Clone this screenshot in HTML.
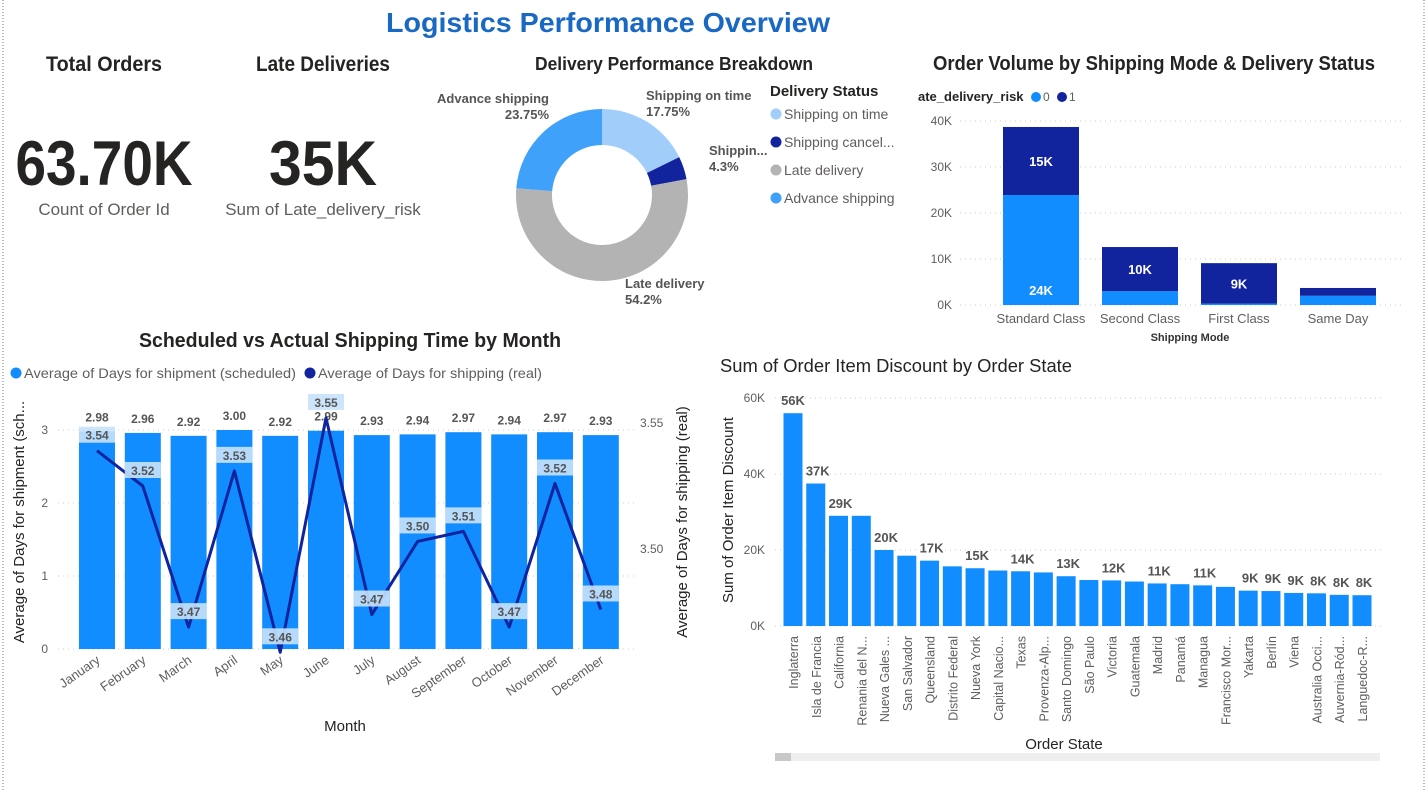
<!DOCTYPE html>
<html><head><meta charset="utf-8"><style>
html,body{margin:0;padding:0;background:#fff;}
svg{display:block;font-family:"Liberation Sans",sans-serif;}
.h{font-family:"Liberation Sans",sans-serif;font-weight:bold;fill:#252423;}
.tk{font-size:12px;fill:#605e5c;}
.lb{font-family:"Liberation Sans",sans-serif;font-weight:bold;font-size:12px;fill:#555;}
</style></head><body>
<svg id="s" width="1428" height="792" viewBox="0 0 1428 792">
<defs><clipPath id="yclip"><rect x="914" y="100" width="9" height="220"/></clipPath></defs>
<line x1="3" y1="0" x2="3" y2="792" stroke="#777" stroke-dasharray="1,2"/>
<line x1="1424" y1="0" x2="1424" y2="792" stroke="#777" stroke-dasharray="1,2"/>
<text x="608" y="32" text-anchor="middle" font-size="28" font-weight="bold" fill="#1868c4" textLength="444" lengthAdjust="spacingAndGlyphs">Logistics Performance Overview</text>

<text class="h" x="104" y="71" text-anchor="middle" font-size="21" textLength="116" lengthAdjust="spacingAndGlyphs">Total Orders</text>
<text class="h" x="104" y="185" text-anchor="middle" font-size="63" textLength="177" lengthAdjust="spacingAndGlyphs">63.70K</text>
<text x="104" y="215" text-anchor="middle" font-size="17" fill="#605e5c">Count of Order Id</text>
<text class="h" x="323" y="71" text-anchor="middle" font-size="21" textLength="134" lengthAdjust="spacingAndGlyphs">Late Deliveries</text>
<text class="h" x="323" y="185" text-anchor="middle" font-size="63" textLength="108" lengthAdjust="spacingAndGlyphs">35K</text>
<text x="323" y="215" text-anchor="middle" font-size="17" fill="#605e5c">Sum of Late_delivery_risk</text>

<g id="donut">
<text class="h" x="674" y="70" text-anchor="middle" font-size="18" textLength="278" lengthAdjust="spacingAndGlyphs">Delivery Performance Breakdown</text>
<text class="h" x="770" y="96" font-size="15" fill="#444">Delivery Status</text>
</g>
<g id="stack">
<text class="h" x="1154" y="70" text-anchor="middle" font-size="20" textLength="442" lengthAdjust="spacingAndGlyphs">Order Volume by Shipping Mode &amp; Delivery Status</text>
<text class="h" x="918" y="101" font-size="13" fill="#444">ate_delivery_risk</text>
<circle cx="1036" cy="97" r="5" fill="#118dff"/>
<text x="1043" y="101" font-size="12" fill="#605e5c">0</text>
<circle cx="1062" cy="97" r="5" fill="#12239e"/>
<text x="1069" y="101" font-size="12" fill="#605e5c">1</text>
<text x="1190" y="341" text-anchor="middle" font-size="11" font-weight="bold" fill="#333">Shipping Mode</text>
<text transform="translate(922,210) rotate(-90)" clip-path="url(#yclip)" text-anchor="middle" font-size="11" fill="#333">Count of Order Id</text>
</g>
<g id="combo">
<text class="h" x="350" y="347" text-anchor="middle" font-size="20" textLength="422" lengthAdjust="spacingAndGlyphs">Scheduled vs Actual Shipping Time by Month</text>
<circle cx="16" cy="373" r="5.5" fill="#118dff"/>
<text x="24" y="378" font-size="14" fill="#605e5c" textLength="272" lengthAdjust="spacingAndGlyphs">Average of Days for shipment (scheduled)</text>
<circle cx="310" cy="373" r="5.5" fill="#12239e"/>
<text x="318" y="378" font-size="14" fill="#605e5c" textLength="224" lengthAdjust="spacingAndGlyphs">Average of Days for shipping (real)</text>
<text transform="translate(24,522) rotate(-90)" text-anchor="middle" font-size="15" fill="#252423">Average of Days for shipment (sch...</text>
<text transform="translate(687,522) rotate(-90)" text-anchor="middle" font-size="15" fill="#252423">Average of Days for shipping (real)</text>
<text x="345" y="731" text-anchor="middle" font-size="15" fill="#252423">Month</text>
</g>
<g id="disc">
<text x="720" y="372" font-size="18" fill="#252423" textLength="352" lengthAdjust="spacingAndGlyphs">Sum of Order Item Discount by Order State</text>
<text transform="translate(733,510) rotate(-90)" text-anchor="middle" font-size="15" fill="#252423">Sum of Order Item Discount</text>
<text x="1064" y="749" text-anchor="middle" font-size="15" fill="#252423">Order State</text>
<rect x="775" y="753" width="605" height="8" fill="#efefef"/>
<rect x="775" y="753" width="16" height="8" fill="#c8c8c8"/>
</g>
</svg>
<script>
// Donut data
const statusLabels=["Shipping on time","Shipping canceled","Late delivery","Advance shipping"];
const statusShares=[17.75,4.3,54.2,23.75];
// Stacked data
const modes=["Standard Class","Second Class","First Class","Same Day"];
const risk0=[23.9,3.0,0.3,2.0];
const risk1=[14.8,9.6,8.8,1.7];
const risk1Labels=["15K","10K","9K",""];
const risk0Labels=["24K","","",""];
const stackTicks=[0,10,20,30,40];
// Combo data
const months=["January","February","March","April","May","June","July","August","September","October","November","December"];
const scheduled=[2.98,2.96,2.92,3.00,2.92,2.99,2.93,2.94,2.97,2.94,2.97,2.93];
const realDays=[3.539,3.525,3.469,3.531,3.459,3.552,3.474,3.503,3.507,3.469,3.526,3.476];
const realLabels=["3.54","3.52","3.47","3.53","3.46","3.55","3.47","3.50","3.51","3.47","3.52","3.48"];
const leftTicks=[0,1,2,3];
const rightTicks=[3.50,3.55];
// Discount data
const states=["Inglaterra","Isla de Francia","California","Renania del N...","Nueva Gales ...","San Salvador","Queensland","Distrito Federal","Nueva York","Capital Nacio...","Texas","Provenza-Alp...","Santo Domingo","São Paulo","Victoria","Guatemala","Madrid","Panamá","Managua","Francisco Mor...","Yakarta","Berlín","Viena","Australia Occi...","Auvernia-Ród...","Languedoc-R..."];
const discounts=[56,37.5,29,29,20,18.5,17.2,15.7,15.2,14.6,14.4,14.1,13.1,12.1,12,11.7,11.2,11,10.7,10.3,9.3,9.2,8.7,8.6,8.2,8.1];
const discLabels=["56K","37K","29K","","20K","","17K","","15K","","14K","","13K","","12K","","11K","","11K","","9K","9K","9K","8K","8K","8K"];
const discTicks=[0,20,40,60];

const NS="http://www.w3.org/2000/svg";
function mk(parent,tag,attrs,text){const e=document.createElementNS(NS,tag);for(const k in attrs)e.setAttribute(k,attrs[k]);if(text!==undefined)e.textContent=text;parent.appendChild(e);return e;}

// ---- Donut
(function(){
const g=document.getElementById('donut');
const colors=["#a0cdfa","#12239e","#b3b3b3","#3fa1f9"];
const cx=602,cy=195,R=86,r=50;
const total=statusShares.reduce((a,b)=>a+b,0);
let a0=0;
statusShares.forEach((v,i)=>{
 const a1=a0+v/total*Math.PI*2;
 const p=(a,rad)=>[cx+rad*Math.sin(a),cy-rad*Math.cos(a)];
 const [x0,y0]=p(a0,R),[x1,y1]=p(a1,R),[x2,y2]=p(a1,r),[x3,y3]=p(a0,r);
 const lg=(a1-a0)>Math.PI?1:0;
 const el=mk(g,'path',{d:`M${x0},${y0}A${R},${R} 0 ${lg} 1 ${x1},${y1}L${x2},${y2}A${r},${r} 0 ${lg} 0 ${x3},${y3}Z`,fill:colors[i]});
 
 
 a0=a1;
});
const lbls=[[646,100,"Shipping on time",statusShares[0]+"%","start"],[709,155,"Shippin...",statusShares[1]+"%","start"],[625,288,"Late delivery",statusShares[2]+"%","start"],[549,103,"Advance shipping",statusShares[3]+"%","end"]];
lbls.forEach((l,i)=>{
 const t=mk(g,'text',{x:l[0],y:l[1],'text-anchor':l[4],class:'lb',style:'font-size:13px'},l[2]);
 
 
 const t2=mk(g,'text',{x:l[0],y:l[1]+16,'text-anchor':l[4],class:'lb',style:'font-size:13px'},l[3]);
 
 
});
const names=["Shipping on time","Shipping cancel...","Late delivery","Advance shipping"];
names.forEach((n,i)=>{
 const c=mk(g,'circle',{cx:776,cy:114+i*28,r:5.5,fill:colors[i]});
 
 
 const t=mk(g,'text',{x:784,y:119+i*28,'font-size':14,fill:'#605e5c'},n);
 
 
});
})();

// ---- Stacked
(function(){
const g=document.getElementById('stack');
const y=v=>305-v*4.6;
stackTicks.forEach(t=>{
 const l=mk(g,'line',{x1:960,x2:1405,y1:y(t),y2:y(t),stroke:'#ccc','stroke-dasharray':'1,4'});
 
 
 const tx=mk(g,'text',{x:952,y:y(t)+4,'text-anchor':'end',class:'tk'},t+'K');
 
 
});
modes.forEach((m,i)=>{
 const x=1003+i*99,w=76;
 const b0=mk(g,'rect',{x:x,y:y(risk0[i]),width:w,height:risk0[i]*4.6,fill:'#118dff'});
 
 
 const b1=mk(g,'rect',{x:x,y:y(risk0[i]+risk1[i]),width:w,height:risk1[i]*4.6,fill:'#12239e'});
 
 
 if(risk1Labels[i]){const t=mk(g,'text',{x:x+w/2,y:(y(risk0[i])+y(risk0[i]+risk1[i]))/2+5,'text-anchor':'middle','font-size':13,'font-weight':'bold',fill:'#fff'},risk1Labels[i]);
 }
 if(risk0Labels[i]){const t=mk(g,'text',{x:x+w/2,y:y(0)-10,'text-anchor':'middle','font-size':13,'font-weight':'bold',fill:'#fff'},risk0Labels[i]);
 }
 const c=mk(g,'text',{x:x+w/2,y:323,'text-anchor':'middle','font-size':13,fill:'#605e5c'},m);
 
 
});
})();

// ---- Combo
(function(){
const g=document.getElementById('combo');
const yL=v=>649-v*73;
const yR=v=>549-(v-3.50)*2520;
const cxf=i=>97+i*45.8;
leftTicks.forEach(t=>{
 const l=mk(g,'line',{x1:58,x2:638,y1:yL(t),y2:yL(t),stroke:'#ccc','stroke-dasharray':'1,4'});
 
 const tx=mk(g,'text',{x:48,y:yL(t)+4,'text-anchor':'end',class:'tk'},t);
 
});
rightTicks.forEach(t=>{
 const tx=mk(g,'text',{x:640,y:yR(t)+4,class:'tk'},t.toFixed(2));
 
});
months.forEach((m,i)=>{
 const x=cxf(i);
 const b=mk(g,'rect',{x:x-18,y:yL(scheduled[i]),width:36,height:scheduled[i]*73,fill:'#118dff'});
 
 const t=mk(g,'text',{x:x,y:yL(scheduled[i])-10,'text-anchor':'middle',class:'lb'},scheduled[i].toFixed(2));
 
 const mt=mk(g,'text',{x:x+4,y:662,'text-anchor':'end',transform:`rotate(-35 ${x+4} 662)`,'font-size':13,fill:'#605e5c'},m);
 
});
const pts=realDays.map((v,i)=>cxf(i)+','+yR(v)).join(' ');
const pl=mk(g,'polyline',{points:pts,fill:'none',stroke:'#12239e','stroke-width':3,'stroke-linejoin':'round'});

realDays.forEach((v,i)=>{
 const x=cxf(i),yy=yR(v)-16;
 const r=mk(g,'rect',{x:x-18,y:yy-8,width:36,height:16,fill:'#c8e2fb',opacity:0.9});
 
 const t=mk(g,'text',{x:x,y:yy+5,'text-anchor':'middle',class:'lb'},realLabels[i]);
 
});
})();

// ---- Discount
(function(){
const g=document.getElementById('disc');
const y=v=>626-v*3.8;
discTicks.forEach(t=>{
 const l=mk(g,'line',{x1:775,x2:1385,y1:y(t),y2:y(t),stroke:'#ccc','stroke-dasharray':'1,4'});
 
 const tx=mk(g,'text',{x:765,y:y(t)+4,'text-anchor':'end',class:'tk'},t+'K');
 
});
states.forEach((s,i)=>{
 const x=793+i*22.76;
 const b=mk(g,'rect',{x:x-9.5,y:y(discounts[i]),width:19,height:discounts[i]*3.8,fill:'#118dff'});
 
 if(discLabels[i]){const t=mk(g,'text',{x:x+(i===0?0:2),y:y(discounts[i])-8,'text-anchor':'middle',class:'lb',style:'font-size:13px'},discLabels[i]);
 }
 const st=mk(g,'text',{x:x+5,y:636,'text-anchor':'end',transform:`rotate(-90 ${x+5} 636)`,'font-size':12.5,fill:'#605e5c'},s);
 
});
})();
</script>
</body></html>
